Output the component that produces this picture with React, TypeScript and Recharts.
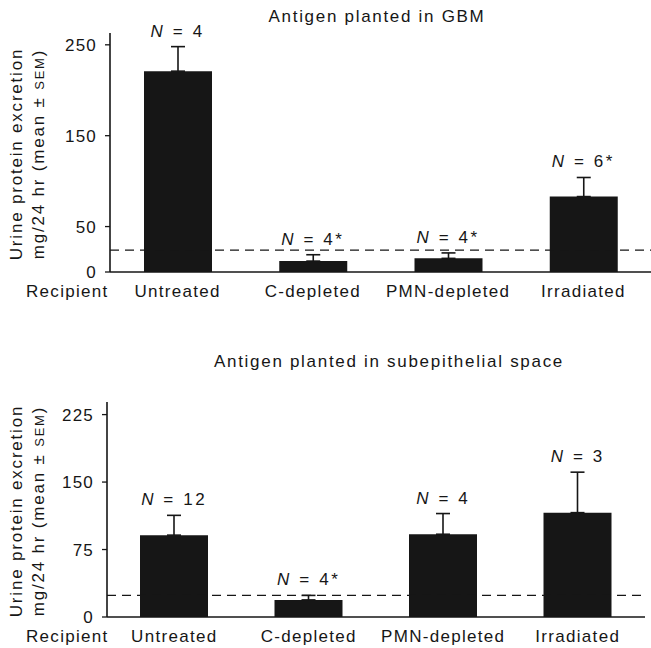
import React from 'react';
import { ComposedChart, Bar, Line, XAxis, YAxis, ErrorBar, ReferenceLine, LabelList } from 'recharts';

const categories = ['Untreated', 'C-depleted', 'PMN-depleted', 'Irradiated'];

const gbmMeans = [221, 12, 15, 83];
const gbmSem = [27, 7, 6, 21];
const gbmN = ['4', '4*', '4*', '6*'];
const gbmTicks = [0, 50, 150, 250];
const gbmMax = 263;
const gbmNormal = 24;

const subMeans = [91, 19, 92, 116];
const subSem = [22, 5, 23, 45];
const subN = ['12', '4*', '4', '3'];
const subTicks = [0, 75, 150, 225];
const subMax = 239;
const subNormal = 24;

const FONT = '"Liberation Sans", Arial, Helvetica, sans-serif';
const INK = '#161616';

function buildData(means: number[], sem: number[], ns: string[]) {
  return categories.map((c, i) => ({
    cat: c,
    mean: means[i],
    err: [0, sem[i]],
    upper: means[i] + sem[i],
    n: ns[i],
  }));
}

const NLabel = (props: any) => {
  const { x, y, value } = props;
  return (
    <text x={x} y={y - 10} textAnchor="middle" fontFamily={FONT} fontSize={17} letterSpacing={2.6} fill={INK}>
      <tspan fontStyle="italic">N</tspan>
      {' = ' + value}
    </text>
  );
};

const XTick = (props: any) => {
  const { x, y, payload } = props;
  return (
    <text x={x} y={y + 25} textAnchor="middle" fontFamily={FONT} fontSize={17} letterSpacing={1.3} fill={INK}>
      {payload.value}
    </text>
  );
};

const YTick = (props: any) => {
  const { x, y, payload } = props;
  return (
    <text x={x} y={y + 6} textAnchor="end" fontFamily={FONT} fontSize={17} letterSpacing={1.2} fill={INK}>
      {payload.value}
    </text>
  );
};

type PanelProps = {
  title: string;
  titleX: number;
  titleY: number;
  labelCy: number;
  means: number[];
  sem: number[];
  ns: string[];
  ticks: number[];
  max: number;
  normal: number;
  height: number;
  top: number;
  marginTop: number;
  marginRight: number;
  yWidth: number;
  xHeight: number;
};

const Panel = (p: PanelProps) => {
  const data = buildData(p.means, p.sem, p.ns);
  const plotBottom = p.height - p.xHeight;
  return (
    <div style={{ position: 'absolute', left: 0, top: p.top, width: 651, height: p.height }}>
      <ComposedChart
        width={651}
        height={p.height}
        data={data}
        margin={{ top: p.marginTop, right: p.marginRight, bottom: 0, left: 0 }}
      >
        <XAxis
          dataKey="cat"
          height={p.xHeight}
          tickLine={false}
          tickSize={0}
          tickMargin={0}
          axisLine={{ stroke: INK, strokeWidth: 1.6 }}
          tick={<XTick />}
          interval={0}
        />
        <YAxis
          width={p.yWidth}
          domain={[0, p.max]}
          ticks={p.ticks}
          interval={0}
          tickSize={5}
          tickMargin={8}
          tickLine={{ stroke: INK, strokeWidth: 1.3 }}
          axisLine={{ stroke: INK, strokeWidth: 1.6 }}
          tick={<YTick />}
        />
        <ReferenceLine y={p.normal} stroke={INK} strokeWidth={1.3} strokeDasharray="9 6" />
        <Bar dataKey="mean" fill={INK} barSize={68} isAnimationActive={false}>
          <ErrorBar dataKey="err" direction="y" width={7} stroke={INK} strokeWidth={1.6} />
        </Bar>
        <Line
          dataKey="upper"
          stroke="none"
          dot={false}
          activeDot={false}
          isAnimationActive={false}
          legendType="none"
        >
          <LabelList dataKey="n" content={<NLabel />} />
        </Line>
      </ComposedChart>
      <svg
        width={651}
        height={p.height}
        style={{ position: 'absolute', left: 0, top: 0, pointerEvents: 'none' }}
      >
        <text x={p.titleX} y={p.titleY} textAnchor="middle" fontFamily={FONT} fontSize={17} letterSpacing={1.7} fill={INK}>
          {p.title}
        </text>
        <text x={26} y={plotBottom + 25} fontFamily={FONT} fontSize={17} letterSpacing={1.3} fill={INK}>
          Recipient
        </text>
        <text
          transform={`translate(22, ${p.labelCy}) rotate(-90)`}
          textAnchor="middle"
          fontFamily={FONT}
          fontSize={17}
          letterSpacing={1.8}
          fill={INK}
        >
          Urine protein excretion
        </text>
        <text
          transform={`translate(44, ${p.labelCy}) rotate(-90)`}
          textAnchor="middle"
          fontFamily={FONT}
          fontSize={17}
          letterSpacing={1.8}
          fill={INK}
        >
          {'mg/24 hr (mean ± '}
          <tspan fontSize={13}>SEM</tspan>
          {')'}
        </text>
      </svg>
    </div>
  );
};

export default function App() {
  return (
    <div style={{ position: 'absolute', left: 0, top: 0, width: 651, height: 648, background: '#fff' }}>
      <Panel
        title="Antigen planted in GBM"
        titleX={377}
        titleY={22}
        labelCy={154}
        means={gbmMeans}
        sem={gbmSem}
        ns={gbmN}
        ticks={gbmTicks}
        max={gbmMax}
        normal={gbmNormal}
        height={305}
        top={0}
        marginTop={33}
        marginRight={0}
        yWidth={110}
        xHeight={33}
      />
      <Panel
        title="Antigen planted in subepithelial space"
        titleX={389}
        titleY={37}
        labelCy={181}
        means={subMeans}
        sem={subSem}
        ns={subN}
        ticks={subTicks}
        max={subMax}
        normal={subNormal}
        height={318}
        top={330}
        marginTop={72}
        marginRight={6}
        yWidth={107}
        xHeight={31}
      />
    </div>
  );
}
